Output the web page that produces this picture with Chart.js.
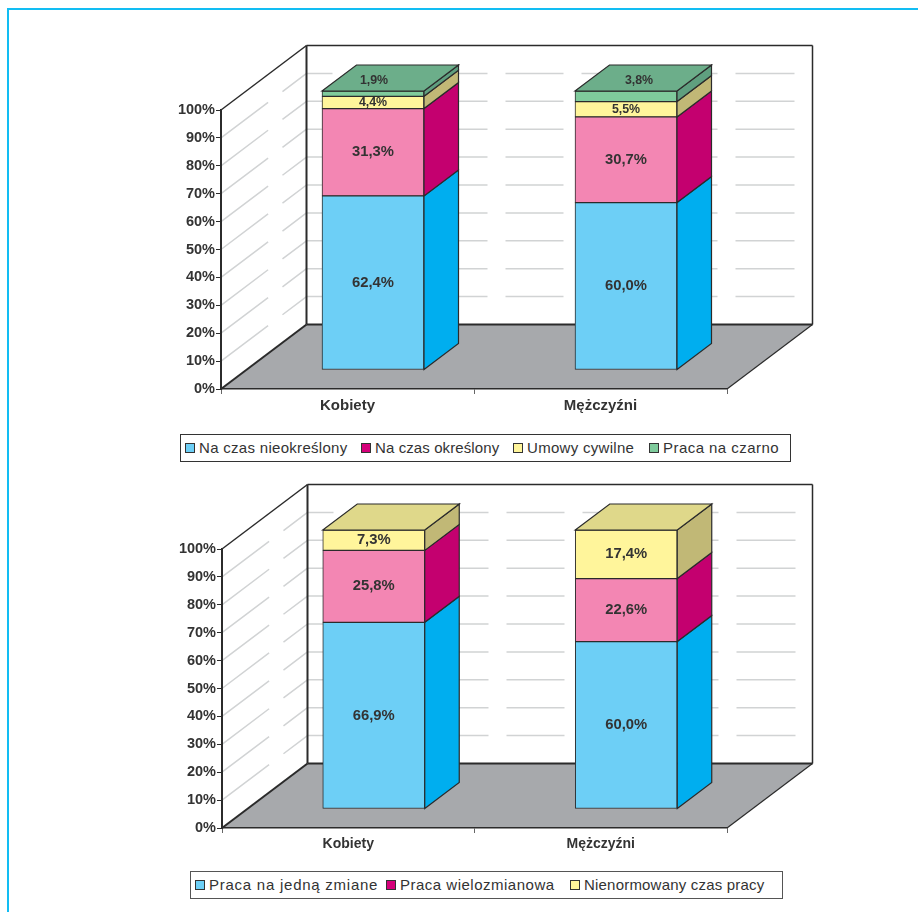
<!DOCTYPE html>
<html lang="pl">
<head>
<meta charset="utf-8">
<title>Formy zatrudnienia</title>
<script src="https://cdn.jsdelivr.net/npm/chart.js@4"></script>
<style>
    html, body { margin: 0; background: #fff; }
    body { position: relative; width: 918px; height: 912px; overflow: hidden; }
    #frame { position: absolute; left: 7px; top: 8px; right: -5px; bottom: -5px; border-top: 2px solid #12bdf3; border-left: 2px solid #12bdf3; }
    canvas { position: absolute; left: 0; }
    #chartTop { top: 0; }
    #chartBottom { top: 470px; }
    .legend { position: absolute; box-sizing: border-box; height: 28px; background: #fff; border: 1.5px solid #333; }
    #legendTop { left: 180px; top: 434px; width: 611px; }
    #legendBottom { left: 190px; top: 871px; width: 593px; border-color: #555; }
    .legend-item { position: absolute; top: 4px; white-space: nowrap; font: 15px "Liberation Sans", Arial, sans-serif; line-height: 18px; color: #333; }
    .legend-item i { position: absolute; left: -14px; top: 4px; width: 8px; height: 8px; border: 1px solid #333; }
</style>
</head>
<body>
<div id="frame"></div>
<canvas id="chartTop" width="918" height="470"></canvas>
<canvas id="chartBottom" width="918" height="442"></canvas>
<div class="legend" id="legendTop"></div>
<div class="legend" id="legendBottom"></div>

<script>
const categories = ['Kobiety', 'Mężczyźni'];
const tickLabels = ['0%', '10%', '20%', '30%', '40%', '50%', '60%', '70%', '80%', '90%', '100%'];

// umowy
const contractNames = ['Na czas nieokreślony', 'Na czas określony', 'Umowy cywilne', 'Praca na czarno'];
const permanentValues = [62.4, 60.0];
const fixedTermValues = [31.3, 30.7];
const civilValues = [4.4, 5.5];
const informalValues = [1.9, 3.8];

// czas pracy
const shiftNames = ['Praca na jedną zmiane', 'Praca wielozmianowa', 'Nienormowany czas pracy'];
const singleShiftValues = [66.9, 60.0];
const multiShiftValues = [25.8, 22.6];
const irregularValues = [7.3, 17.4];

const BLUE = { front: '#6dcff6', side: '#00aeef', top: '#6dcff6', swatch: '#6dcff6' };
const PINK = { front: '#f386b3', side: '#c4006f', top: '#f386b3', swatch: '#d5007a' };
const YELLOW = { front: '#fff59b', side: '#c1b876', top: '#dfd88a', swatch: '#fff59b' };
const GREEN = { front: '#7fcb9c', side: '#5f9f7f', top: '#6cae8a', swatch: '#7fcb9c' };

const INK = '#2b2b2b';
const WALL_DEPTH = { x: 85.5, y: -64.5 };
const BAR_GAP = { x: 25.5, y: -19 };
const BAR_DEPTH = { x: 34.5, y: -26 };

function polygon(ctx, points) {
    ctx.beginPath();
    points.forEach((p, i) => i ? ctx.lineTo(p[0], p[1]) : ctx.moveTo(p[0], p[1]));
    ctx.closePath();
}

function line(ctx, x1, y1, x2, y2, width, colour) {
    ctx.lineWidth = width;
    ctx.strokeStyle = colour;
    ctx.beginPath();
    ctx.moveTo(x1, y1);
    ctx.lineTo(x2, y2);
    ctx.stroke();
}

// floor, back wall, side wall and their broken gridlines
const roomPlugin = {
    id: 'room',
    beforeDraw(chart) {
        const { ctx, chartArea: { left, right, top, bottom }, scales: { y } } = chart;
        const dx = WALL_DEPTH.x;
        const dy = WALL_DEPTH.y;

        ctx.save();
        ctx.fillStyle = '#a7a9ac';
        polygon(ctx, [[left, bottom], [right, bottom], [right + dx, bottom + dy], [left + dx, bottom + dy]]);
        ctx.fill();

        y.ticks.forEach(tick => {
            if (tick.value === 0 || tick.value === 100) return;
            const py = y.getPixelForValue(tick.value);
            ctx.setLineDash([59, 18, 34]);
            line(ctx, left, py, left + dx, py + dy, 1.5, '#d1d3d4');
            ctx.setLineDash([26, 18, 137, 18, 58, 18, 136, 18, 59, 100]);
            line(ctx, left + dx, py + dy, right + dx, py + dy, 1.5, '#d1d3d4');
        });
        ctx.setLineDash([]);

        line(ctx, left, top, left + dx, top + dy, 1.5, INK);
        line(ctx, left + dx, top + dy, right + dx, top + dy, 1.5, INK);
        line(ctx, right + dx, top + dy, right + dx, bottom + dy, 1.5, INK);
        line(ctx, left + dx, top + dy, left + dx, bottom + dy, 2, INK);
        line(ctx, left + dx, bottom + dy, right + dx, bottom + dy, 2, INK);
        line(ctx, left, bottom, left + dx, bottom + dy, 2, INK);
        line(ctx, right, bottom, right + dx, bottom + dy, 1.2, INK);
        ctx.restore();
    },
    beforeDatasetsDraw(chart) {
        chart.ctx.save();
        chart.ctx.translate(BAR_GAP.x, BAR_GAP.y);
    },
    afterDatasetsDraw(chart, args, opts) {
        const ctx = chart.ctx;
        const count = chart.data.datasets.length;

        chart.data.datasets.forEach((dataset, i) => {
            const faces = opts.faces[i];
            chart.getDatasetMeta(i).data.forEach(bar => {
                const r = bar.x + bar.width / 2;
                const l = bar.x - bar.width / 2;
                ctx.lineWidth = 1.2;
                ctx.strokeStyle = INK;
                ctx.fillStyle = faces.side;
                polygon(ctx, [[r, bar.y], [r + BAR_DEPTH.x, bar.y + BAR_DEPTH.y], [r + BAR_DEPTH.x, bar.base + BAR_DEPTH.y], [r, bar.base]]);
                ctx.fill();
                ctx.stroke();
                if (i === count - 1) {
                    ctx.fillStyle = faces.top;
                    polygon(ctx, [[l, bar.y], [l + BAR_DEPTH.x, bar.y + BAR_DEPTH.y], [r + BAR_DEPTH.x, bar.y + BAR_DEPTH.y], [r, bar.y]]);
                    ctx.fill();
                    ctx.stroke();
                }
            });
        });

        // value labels, the thin top segment moves up onto the lid
        ctx.fillStyle = '#333';
        ctx.textAlign = 'center';
        ctx.textBaseline = 'middle';
        chart.data.datasets.forEach((dataset, i) => {
            chart.getDatasetMeta(i).data.forEach((bar, j) => {
                const value = dataset.data[j];
                const onLid = i === count - 1 && value < 4;
                const x = onLid ? bar.x + opts.lidShift[j] : bar.x;
                const y = onLid ? bar.y - 10.5 : (bar.y + bar.base) / 2;
                ctx.font = 'bold ' + (value < 6 ? 12.4 : 14.8) + 'px "Liberation Sans", Arial, sans-serif';
                ctx.fillText(value.toFixed(1).replace('.', ',') + '%', x, y);
            });
        });
        ctx.restore();
    }
};

function makeChart(id, names, values, faces, box, xFontSize, lidShift) {
    const datasets = names.map((name, i) => ({
        label: name,
        data: values[i],
        backgroundColor: faces[i].front,
        borderColor: INK,
        borderWidth: 1,
        borderSkipped: false,
        barThickness: 102,
        clip: false
    }));

    return new Chart(document.getElementById(id), {
        type: 'bar',
        data: { labels: categories, datasets: datasets },
        plugins: [roomPlugin],
        options: {
            responsive: false,
            animation: false,
            events: [],
            layout: { padding: box },
            plugins: {
                legend: { display: false },
                tooltip: { enabled: false },
                room: { faces: faces, lidShift: lidShift }
            },
            scales: {
                x: {
                    stacked: true,
                    afterFit(scale) { scale.height = 32; },
                    border: { color: INK, width: 1.5 },
                    grid: { drawOnChartArea: false, tickLength: 5, tickColor: '#666' },
                    ticks: {
                        padding: 3,
                        maxRotation: 0,
                        color: '#333',
                        font: { family: '"Liberation Sans", Arial, sans-serif', size: xFontSize, weight: 'bold' }
                    }
                },
                y: {
                    stacked: true,
                    min: 0,
                    max: 100,
                    afterFit(scale) { scale.width = box.axisLeft; },
                    border: { color: INK, width: 2 },
                    grid: { drawOnChartArea: false, tickLength: 5, tickColor: INK },
                    ticks: {
                        stepSize: 10,
                        autoSkip: false,
                        padding: 1,
                        color: '#333',
                        font: { family: '"Liberation Sans", Arial, sans-serif', size: 14.5, weight: 'bold' },
                        callback: (value, index) => tickLabels[index]
                    }
                }
            }
        }
    });
}

function makeLegend(id, names, faces, lefts, spacing) {
    const holder = document.getElementById(id);
    names.forEach((name, i) => {
        const item = document.createElement('span');
        item.className = 'legend-item';
        item.style.left = lefts[i] + 'px';
        item.style.letterSpacing = spacing[i] + 'px';
        item.textContent = name;
        const swatch = document.createElement('i');
        swatch.style.background = faces[i].swatch;
        item.appendChild(swatch);
        holder.appendChild(item);
    });
}

const contractFaces = [BLUE, PINK, YELLOW, GREEN];
const shiftFaces = [BLUE, PINK, YELLOW];

makeChart('chartTop', contractNames, [permanentValues, fixedTermValues, civilValues, informalValues], contractFaces,
    { top: 110, right: 191, bottom: 49, left: 0, axisLeft: 221 }, 15, [1, 13]);
makeChart('chartBottom', shiftNames, [singleShiftValues, multiShiftValues, irregularValues], shiftFaces,
    { top: 79, right: 191, bottom: 52, left: 0, axisLeft: 222 }, 14, [0, 0]);

makeLegend('legendTop', contractNames, contractFaces, [18, 194, 346, 482], [0.3, 0.1, 0.3, 0.45]);
makeLegend('legendBottom', shiftNames, shiftFaces, [18, 209, 393], [0.75, 0.5, 0.2]);
</script>
</body>
</html>
